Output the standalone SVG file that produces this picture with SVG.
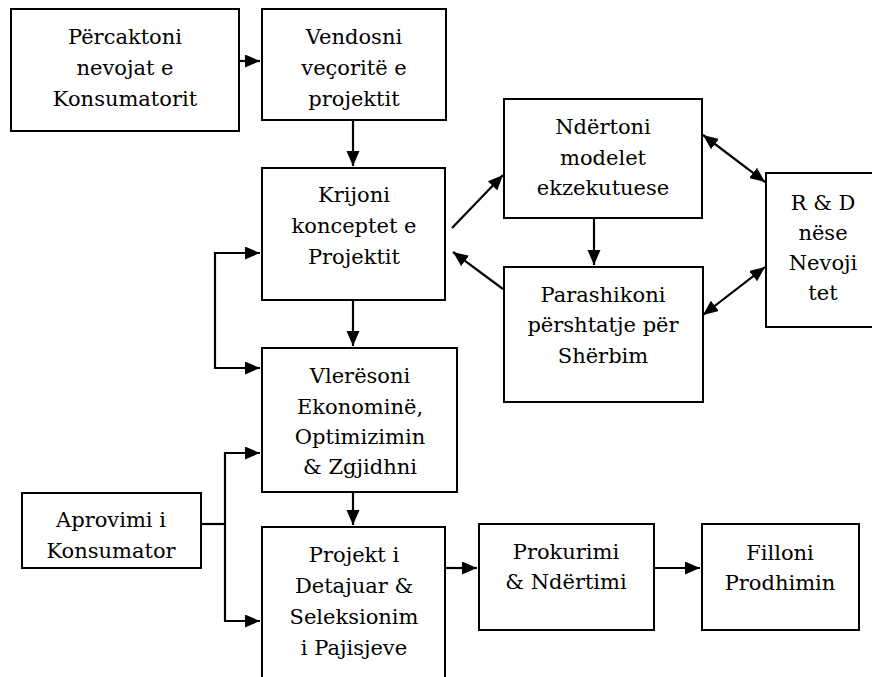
<svg xmlns="http://www.w3.org/2000/svg" width="872" height="677" viewBox="0 0 872 677">
<style>
.box{fill:#fff;stroke:#000;stroke-width:2}
.t{font-family:'DejaVu Serif',serif;font-size:21px;fill:#000;text-anchor:middle}
.c{fill:none;stroke:#000;stroke-width:2.2}
</style>
<defs>
<marker id="ah" markerUnits="userSpaceOnUse" markerWidth="16" markerHeight="14" refX="15" refY="6.5" orient="auto-start-reverse">
<path d="M0,0 L15,6.5 L0,13 z" fill="#000"/>
</marker>
</defs>
<rect width="872" height="677" fill="#fff"/>
<g id="connectors">
<path class="c" d="M239,61 H260" marker-end="url(#ah)"/>
<path class="c" d="M353,120 V166" marker-end="url(#ah)"/>
<path class="c" d="M353,300 V346" marker-end="url(#ah)"/>
<path class="c" d="M353,492 V525" marker-end="url(#ah)"/>
<path class="c" d="M260,253 H215 V368 H260" marker-start="url(#ah)" marker-end="url(#ah)"/>
<path class="c" d="M201,524 H225"/>
<path class="c" d="M260,453 H225 V621 H260" marker-start="url(#ah)" marker-end="url(#ah)"/>
<path class="c" d="M452,228 L503,175" marker-end="url(#ah)"/>
<path class="c" d="M503,289 L453,252" marker-end="url(#ah)"/>
<path class="c" d="M594,218 V265" marker-end="url(#ah)"/>
<path class="c" d="M703,135 L765,182" marker-start="url(#ah)" marker-end="url(#ah)"/>
<path class="c" d="M703,315 L765,267" marker-start="url(#ah)" marker-end="url(#ah)"/>
<path class="c" d="M445,568 H477" marker-end="url(#ah)"/>
<path class="c" d="M654,568 H700" marker-end="url(#ah)"/>
</g>
<g id="n1"><rect class="box" x="11" y="9" width="228" height="122"/>
<text class="t" x="125" y="44">Përcaktoni</text><text class="t" x="125" y="75">nevojat e</text><text class="t" x="125" y="106">Konsumatorit</text></g>
<g id="n2"><rect class="box" x="262" y="9" width="184" height="111"/>
<text class="t" x="354" y="44">Vendosni</text><text class="t" x="354" y="75">veçoritë e</text><text class="t" x="354" y="106">projektit</text></g>
<g id="n3"><rect class="box" x="262" y="168" width="183" height="132"/>
<text class="t" x="354" y="202">Krijoni</text><text class="t" x="354" y="233">konceptet e</text><text class="t" x="354" y="264">Projektit</text></g>
<g id="n4"><rect class="box" x="262" y="348" width="195" height="144"/>
<text class="t" x="360" y="383">Vlerësoni</text><text class="t" x="360" y="414">Ekonominë,</text><text class="t" x="360" y="444">Optimizimin</text><text class="t" x="360" y="474">&amp; Zgjidhni</text></g>
<g id="n5"><rect class="box" x="262" y="527" width="183" height="175"/>
<text class="t" x="354" y="562">Projekt i</text><text class="t" x="354" y="593">Detajuar &amp;</text><text class="t" x="354" y="624">Seleksionim</text><text class="t" x="354" y="655">i Pajisjeve</text></g>
<g id="n6"><rect class="box" x="22" y="493" width="179" height="75"/>
<text class="t" x="111" y="527">Aprovimi i</text><text class="t" x="111" y="558">Konsumator</text></g>
<g id="n7"><rect class="box" x="504" y="99" width="198" height="119"/>
<text class="t" x="603" y="134">Ndërtoni</text><text class="t" x="603" y="165">modelet</text><text class="t" x="603" y="195">ekzekutuese</text></g>
<g id="n8"><rect class="box" x="504" y="267" width="199" height="135"/>
<text class="t" x="603" y="302">Parashikoni</text><text class="t" x="603" y="332">përshtatje për</text><text class="t" x="603" y="363">Shërbim</text></g>
<g id="n9"><rect class="box" x="766" y="173" width="114" height="154"/>
<text class="t" x="823" y="210">R &amp; D</text><text class="t" x="823" y="240">nëse</text><text class="t" x="823" y="270">Nevoji</text><text class="t" x="823" y="300">tet</text></g>
<g id="n10"><rect class="box" x="479" y="524" width="175" height="106"/>
<text class="t" x="566" y="559">Prokurimi</text><text class="t" x="566" y="589">&amp; Ndërtimi</text></g>
<g id="n11"><rect class="box" x="702" y="524" width="157" height="106"/>
<text class="t" x="780" y="560">Filloni</text><text class="t" x="780" y="590">Prodhimin</text></g>
</svg>
